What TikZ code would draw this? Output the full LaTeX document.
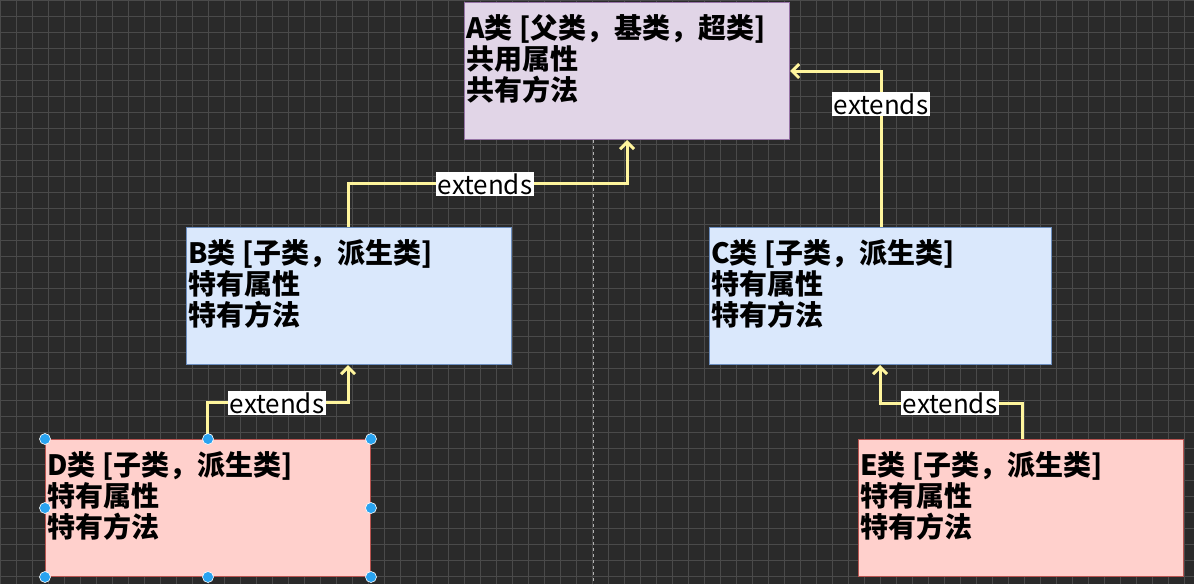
\documentclass[tikz,border=0pt]{standalone}
\usepackage{fontspec}
\setmainfont{Noto Sans CJK SC}
\usetikzlibrary{arrows.meta,positioning}
\definecolor{bgdark}{HTML}{2A2A2A}
\definecolor{gridc}{HTML}{4A4A4A}
\definecolor{purplef}{HTML}{E1D5E7}\definecolor{purpled}{HTML}{9673A6}
\definecolor{bluef}{HTML}{DAE8FC}\definecolor{blued}{HTML}{6C8EBF}
\definecolor{redf}{HTML}{FFD0CC}\definecolor{redd}{HTML}{B85450}
\definecolor{arrowc}{HTML}{FFF59D}
\definecolor{handle}{HTML}{29A3F0}
\tikzset{
  classbox/.style={draw,line width=1pt,minimum width=325pt,minimum height=137pt,inner sep=0pt,anchor=north west},
  classtext/.style={anchor=north west,inner sep=0pt,align=left,font=\fontsize{28}{31}\selectfont\bfseries},
  ext/.style={draw=arrowc,line width=3pt,-{Straight Barb[length=7pt,width=14pt]}},
  extlabel/.style={fill=white,inner sep=1.5pt,font=\fontsize{26}{26}\selectfont},
  dot/.style={circle,fill=handle,draw=white,line width=0.6pt,inner sep=0pt,minimum size=11pt}
}
\begin{document}
\begin{tikzpicture}[x=1pt,y=-1pt]
\fill[bgdark] (0,0) rectangle (1194,584);
\useasboundingbox (0,0) rectangle (1194,584);
\draw[gridc,step=16pt,line width=0.5pt] (0,0) grid (1194,584);
\draw[gray!60,dashed,line width=0.6pt] (593,140) -- (593,584);

% classes
\node[classbox,fill=purplef,draw=purpled] (A) at (464,2) {};
\node[classtext] at (466,14) {A类 [父类，基类，超类]\\共用属性\\共有方法};
\node[classbox,fill=bluef,draw=blued] (B) at (186,227) {};
\node[classtext] at (188,239) {B类 [子类，派生类]\\特有属性\\特有方法};
\node[classbox,fill=bluef,draw=blued,minimum width=342pt] (C) at (709,227) {};
\node[classtext] at (711,239) {C类 [子类，派生类]\\特有属性\\特有方法};
\node[classbox,fill=redf,draw=redd] (D) at (45,439) {};
\node[classtext] at (47,451) {D类 [子类，派生类]\\特有属性\\特有方法};
\node[classbox,fill=redf,draw=redd] (E) at (858,439) {};
\node[classtext] at (860,451) {E类 [子类，派生类]\\特有属性\\特有方法};

% extends
\draw[ext] (B.north west) ++(162,0) |- (485,183) -| ([xshift=163pt]A.south west);
\node[extlabel] at (485,184) {extends};
\draw[ext] (C.north west) ++(172,0) |- (A.east |- 0,71);
\node[extlabel] at (881,104) {extends};
\draw[ext] (D.north west) ++(162,0) |- (277,402) -| ([xshift=162pt]B.south west);
\node[extlabel] at (277,403) {extends};
\draw[ext] (E.north east) ++(-162,0) |- (950,403) -| ([xshift=171pt]C.south west);
\node[extlabel] at (950,403) {extends};

% selection handles
\foreach \p in {north west,north,north east,west,east,south west,south,south east}
  \node[dot] at (D.\p) {};
\end{tikzpicture}
\end{document}
